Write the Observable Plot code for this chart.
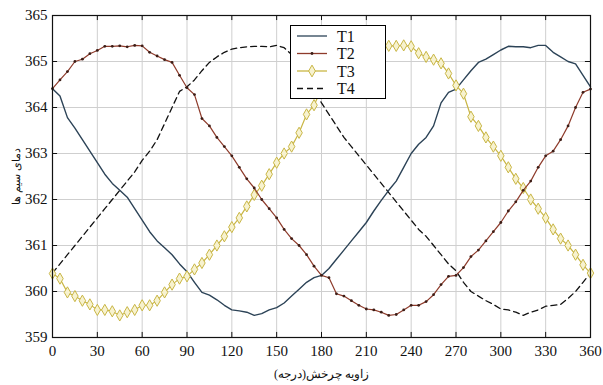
<!DOCTYPE html>
<html>
<head>
<meta charset="utf-8">
<script src="https://cdn.jsdelivr.net/npm/d3@7"></script>
<script src="https://cdn.jsdelivr.net/npm/@observablehq/plot@0.6"></script>
<style>
  html, body { margin: 0; padding: 0; background: #fff; }
  #wrap { position: relative; width: 603px; height: 385px; }
  #legend { position: absolute; background: #fff; border: 1px solid #000; box-sizing: border-box; }
  svg text { font-family: "Liberation Serif", "Times New Roman", serif; }
</style>
</head>
<body>
<div id="wrap"></div>
<script>
// ---- data ----
const angles = d3.range(0, 361, 5);
const seriesNames = ["T1", "T2", "T3", "T4"];
const T1 = [364.41,364.25,363.78,363.55,363.3,363.05,362.8,362.55,362.35,362.2,362.05,361.8,361.55,361.3,361.1,360.95,360.8,360.6,360.43,360.2,359.98,359.92,359.82,359.7,359.6,359.58,359.55,359.48,359.52,359.6,359.65,359.75,359.9,360.05,360.2,360.3,360.35,360.5,360.7,360.9,361.1,361.3,361.5,361.75,361.98,362.2,362.4,362.7,363.0,363.2,363.35,363.6,364.1,364.33,364.4,364.6,364.8,364.98,365.05,365.15,365.25,365.33,365.32,365.32,365.3,365.35,365.35,365.2,365.1,365.0,364.95,364.7,364.45];
const T2 = [364.41,364.6,364.78,365.0,365.05,365.17,365.24,365.33,365.33,365.34,365.32,365.35,365.34,365.2,365.12,365.04,364.98,364.7,364.43,364.28,363.76,363.6,363.35,363.15,362.95,362.7,362.45,362.25,362.0,361.8,361.6,361.35,361.15,361.0,360.8,360.55,360.35,360.3,359.95,359.9,359.8,359.7,359.62,359.6,359.55,359.48,359.5,359.6,359.7,359.7,359.78,359.93,360.15,360.33,360.35,360.52,360.76,360.9,361.1,361.3,361.5,361.75,361.95,362.2,362.4,362.7,362.95,363.05,363.3,363.6,364.0,364.33,364.4];
const T3 = [360.39,360.28,359.98,359.9,359.8,359.72,359.6,359.6,359.57,359.48,359.55,359.6,359.7,359.7,359.8,359.98,360.15,360.28,360.33,360.48,360.62,360.8,361.0,361.2,361.4,361.6,361.85,362.1,362.3,362.55,362.8,363.0,363.15,363.45,363.85,364.05,364.4,364.6,364.8,365.0,365.1,365.17,365.25,365.33,365.33,365.34,365.34,365.35,365.33,365.18,365.1,365.04,364.96,364.74,364.48,364.3,363.8,363.6,363.35,363.15,362.95,362.7,362.45,362.25,362.0,361.8,361.6,361.35,361.15,361.0,360.8,360.58,360.4];
const T4 = [360.4,360.6,360.8,361.0,361.2,361.4,361.6,361.8,362.0,362.2,362.4,362.6,362.85,363.05,363.3,363.65,364.0,364.35,364.45,364.6,364.8,364.98,365.1,365.2,365.27,365.3,365.32,365.33,365.33,365.32,365.35,365.3,365.15,364.95,364.7,364.4,364.1,363.85,363.6,363.35,363.15,362.95,362.75,362.55,362.35,362.15,361.95,361.75,361.55,361.35,361.2,361.0,360.8,360.6,360.45,360.2,360.0,359.9,359.8,359.72,359.62,359.6,359.55,359.48,359.55,359.6,359.68,359.7,359.72,359.85,360.0,360.2,360.4];
const xTicks = [0,30,60,90,120,150,180,210,240,270,300,330,360];
const yTicks = [359,360,361,362,363,364,365,366];
const yTickLabels = ["359","360","361","362","363","364","365","365"];
const xLabel = "\u202Bزاویه چرخش(درجه)\u202C";
const yLabel = "\u202Bدمای سیم ها\u202C";

const colors = {T1: "#2c4357", T2: "#8e3b2b", T3: "#c9b645", T4: "#111111"};
const values = {T1, T2, T3, T4};
const rows = seriesNames.flatMap(s => angles.map((a, i) => ({series: s, angle: a, temp: values[s][i]})));
const of = s => rows.filter(d => d.series === s);

const xDom = [0, 360], yDom = [359, 366];
const plot = Plot.plot({
  width: 603, height: 385,
  marginLeft: 52, marginRight: 13, marginTop: 15, marginBottom: 48,
  style: {fontFamily: "Liberation Serif, serif", fontSize: "15px", color: "#111", background: "#fff"},
  x: {domain: xDom, ticks: xTicks},
  y: {domain: yDom, ticks: yTicks},
  marks: [
    Plot.gridX(xTicks, {stroke: "#cfcfcf", strokeOpacity: 1}),
    Plot.gridY(yTicks, {stroke: "#cfcfcf", strokeOpacity: 1}),
    Plot.axisX(xTicks, {tickSize: 0, tickPadding: 8, fontSize: 15, label: null}),
    Plot.axisX([], {label: xLabel, labelAnchor: "center", labelArrow: "none", labelOffset: 40, fontSize: 12, tickSize: 0, fontFamily: "DejaVu Sans, sans-serif"}),
    Plot.axisY(yTicks, {tickSize: 0, tickPadding: 5, fontSize: 15, label: null, tickFormat: d => yTickLabels[yTicks.indexOf(d)]}),
    Plot.axisY([], {label: yLabel, labelAnchor: "center", labelArrow: "none", labelOffset: 40, fontSize: 11, tickSize: 0, fontFamily: "DejaVu Sans, sans-serif"}),
    // inward tick marks
    Plot.ruleX(xTicks, {y1: 359, y2: 359.11, stroke: "#111"}),
    Plot.ruleX(xTicks, {y1: 366, y2: 365.89, stroke: "#111"}),
    Plot.ruleY(yTicks, {x1: 0, x2: 3.4, stroke: "#111"}),
    Plot.ruleY(yTicks, {x1: 360, x2: 356.6, stroke: "#111"}),
    Plot.line(of("T4"), {x: "angle", y: "temp", stroke: colors.T4, strokeWidth: 1.3, strokeDasharray: "6,4"}),
    Plot.line(of("T1"), {x: "angle", y: "temp", stroke: colors.T1, strokeWidth: 1.4}),
    Plot.line(of("T3"), {x: "angle", y: "temp", stroke: colors.T3, strokeWidth: 1.2}),
    Plot.dot(of("T3"), {x: "angle", y: "temp", symbol: "diamond", r: 3.4, stroke: colors.T3, fill: "#f7f2cf", strokeWidth: 1}),
    Plot.line(of("T2"), {x: "angle", y: "temp", stroke: colors.T2, strokeWidth: 1.2}),
    Plot.dot(of("T2"), {x: "angle", y: "temp", r: 1.4, fill: "#3c1d16", stroke: "none"}),
    Plot.frame({stroke: "#111", strokeWidth: 1.2})
  ]
});
const wrap = document.getElementById("wrap");
wrap.appendChild(plot);

// ---- legend overlay ----
const lg = document.createElement("div");
lg.id = "legend";
Object.assign(lg.style, {left: "290px", top: "25px", width: "96px", height: "74px"});
wrap.appendChild(lg);
const ls = d3.select(lg).append("svg").attr("width", 94).attr("height", 72);
seriesNames.forEach((s, i) => {
  const y = 10 + i * 17.5;
  const g = ls.append("g");
  g.append("line").attr("x1", 6).attr("x2", 36).attr("y1", y).attr("y2", y)
    .attr("stroke", colors[s]).attr("stroke-width", 1.3)
    .attr("stroke-dasharray", s === "T4" ? "6,4" : null);
  if (s === "T2") g.append("circle").attr("cx", 21).attr("cy", y).attr("r", 1.4).attr("fill", "#3c1d16");
  if (s === "T3") g.append("path").attr("d", d3.symbol(d3.symbolDiamond, 40)()).attr("transform", `translate(21,${y})`)
    .attr("fill", "#f7f2cf").attr("stroke", colors.T3);
  g.append("text").attr("x", 46).attr("y", y).attr("dy", "0.35em").attr("font-size", 16).attr("fill", "#111").text(s);
});
</script>
</body>
</html>
